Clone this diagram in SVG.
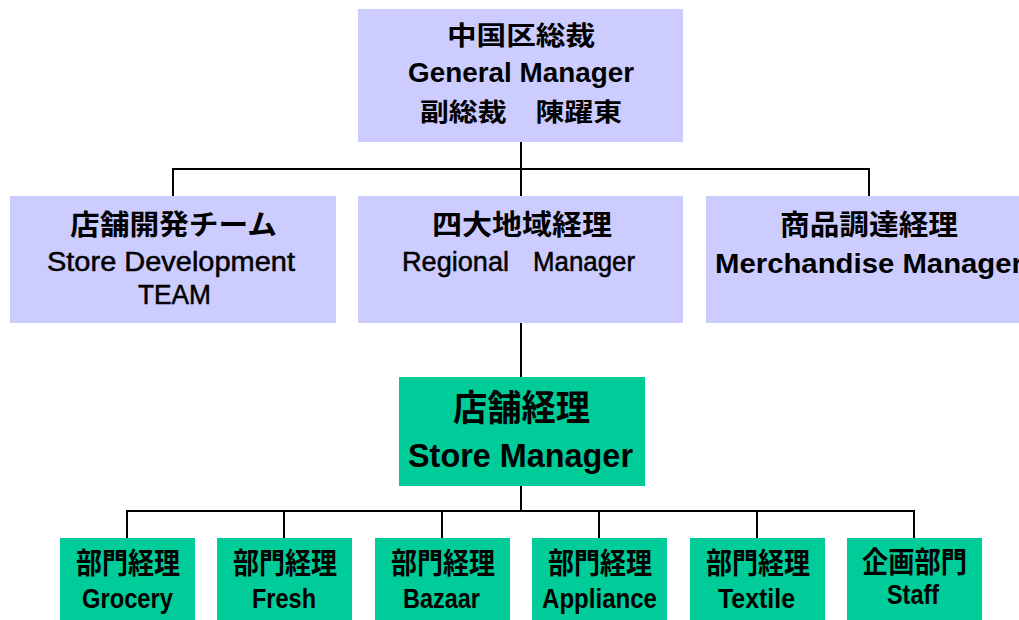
<svg xmlns="http://www.w3.org/2000/svg" width="1019" height="620" viewBox="0 0 1019 620">
<style>
.lav{fill:#CCCCFF}
.grn{fill:#00CC99}
text{font-family:"Liberation Sans",Arial,"Noto Sans CJK JP",sans-serif;fill:#000;text-anchor:middle;font-weight:bold}
.cjk{font-family:"Noto Sans CJK JP","Liberation Sans",sans-serif}
.reg{font-weight:normal;stroke:#000;stroke-width:0.5}
.conn{stroke:#000;stroke-width:2;fill:none}
</style>
<rect width="1019" height="620" fill="#fff"/>
<g id="connectors">
<path class="conn" d="M521 142V196M173 196V169H869V196"/>
<path class="conn" d="M521 323V377"/>
<path class="conn" d="M521 486V511M127 538V511H914V538M284 511V538M442 511V538M599 511V538M757 511V538"/>
</g>
<g id="gm">
<rect class="lav" x="358" y="9" width="325" height="133"/>
<text class="cjk" x="521" y="45" font-size="26" textLength="148" lengthAdjust="spacingAndGlyphs">中国区総裁</text>
<text x="521" y="82" font-size="27.5" textLength="226" lengthAdjust="spacingAndGlyphs">General Manager</text>
<text class="cjk" x="521" y="121" font-size="25" textLength="202" lengthAdjust="spacingAndGlyphs">副総裁　陳躍東</text>
</g>
<g id="storedev">
<rect class="lav" x="10" y="196" width="326" height="127"/>
<text class="cjk" x="173.5" y="235" font-size="28" textLength="207" lengthAdjust="spacingAndGlyphs">店舗開発チーム</text>
<text class="reg" x="171" y="271" font-size="27" textLength="248" lengthAdjust="spacingAndGlyphs">Store Development</text>
<text class="reg" x="174.5" y="304" font-size="27" textLength="73" lengthAdjust="spacingAndGlyphs">TEAM</text>
</g>
<g id="regional">
<rect class="lav" x="358" y="196" width="325" height="127"/>
<text class="cjk" x="522" y="235" font-size="28" textLength="180" lengthAdjust="spacingAndGlyphs">四大地域経理</text>
<text class="reg" font-size="27" y="271" style="text-anchor:start"><tspan x="402" textLength="107" lengthAdjust="spacingAndGlyphs">Regional</tspan> <tspan x="533" textLength="102" lengthAdjust="spacingAndGlyphs">Manager</tspan></text>
</g>
<g id="merch">
<rect class="lav" x="706" y="196" width="326" height="127"/>
<text class="cjk" x="869" y="235" font-size="28" textLength="178" lengthAdjust="spacingAndGlyphs">商品調達経理</text>
<text x="869" y="273" font-size="27.5" textLength="308" lengthAdjust="spacingAndGlyphs">Merchandise Manager</text>
</g>
<g id="storemgr">
<rect class="grn" x="399" y="377" width="246" height="109"/>
<text class="cjk" x="521.5" y="421" font-size="36" textLength="137" lengthAdjust="spacingAndGlyphs">店舗経理</text>
<text x="520.5" y="467" font-size="34" textLength="225" lengthAdjust="spacingAndGlyphs">Store Manager</text>
</g>
<g id="grocery">
<rect class="grn" x="60" y="538" width="135" height="82"/>
<text class="cjk" x="128" y="574" font-size="29" textLength="104" lengthAdjust="spacingAndGlyphs">部門経理</text>
<text x="127.5" y="608" font-size="27.5" textLength="91" lengthAdjust="spacingAndGlyphs">Grocery</text>
</g>
<g id="fresh">
<rect class="grn" x="217" y="538" width="135" height="82"/>
<text class="cjk" x="285" y="574" font-size="29" textLength="104" lengthAdjust="spacingAndGlyphs">部門経理</text>
<text x="284" y="608" font-size="27.5" textLength="64" lengthAdjust="spacingAndGlyphs">Fresh</text>
</g>
<g id="bazaar">
<rect class="grn" x="375" y="538" width="135" height="82"/>
<text class="cjk" x="443" y="574" font-size="29" textLength="104" lengthAdjust="spacingAndGlyphs">部門経理</text>
<text x="441.5" y="608" font-size="27.5" textLength="77" lengthAdjust="spacingAndGlyphs">Bazaar</text>
</g>
<g id="appliance">
<rect class="grn" x="532" y="538" width="135" height="82"/>
<text class="cjk" x="600" y="574" font-size="29" textLength="104" lengthAdjust="spacingAndGlyphs">部門経理</text>
<text x="599.5" y="608" font-size="27.5" textLength="115" lengthAdjust="spacingAndGlyphs">Appliance</text>
</g>
<g id="textile">
<rect class="grn" x="690" y="538" width="135" height="82"/>
<text class="cjk" x="758" y="574" font-size="29" textLength="104" lengthAdjust="spacingAndGlyphs">部門経理</text>
<text x="756.5" y="608" font-size="27.5" textLength="77" lengthAdjust="spacingAndGlyphs">Textile</text>
</g>
<g id="staff">
<rect class="grn" x="847" y="538" width="135" height="82"/>
<text class="cjk" x="914.5" y="573" font-size="29" textLength="105" lengthAdjust="spacingAndGlyphs">企画部門</text>
<text x="913" y="604" font-size="27.5" textLength="52" lengthAdjust="spacingAndGlyphs">Staff</text>
</g>
</svg>
